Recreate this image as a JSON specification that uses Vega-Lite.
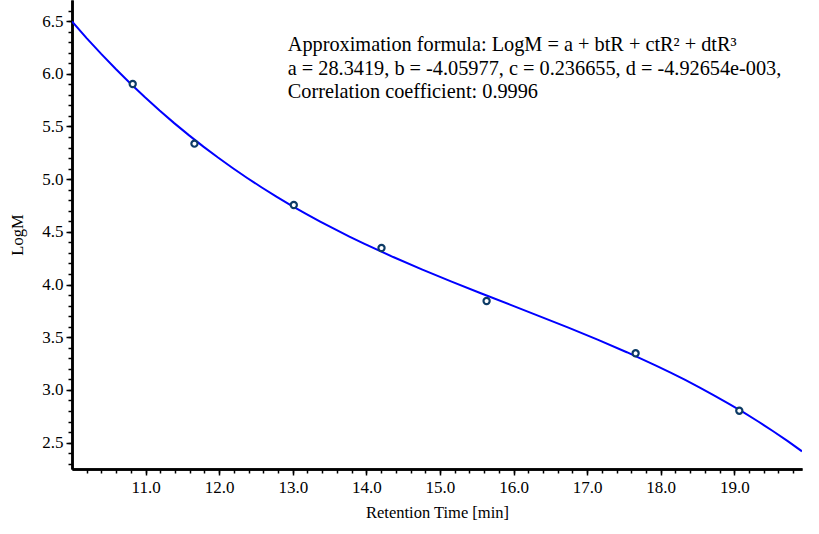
{
  "$schema": "https://vega.github.io/schema/vega-lite/v6.json",
  "width": 730,
  "height": 469,
  "autosize": {"type": "none"},
  "padding": {"left": 72, "top": 0, "right": 17, "bottom": 65},
  "background": "white",
  "config": {
    "view": {"stroke": null},
    "font": "Liberation Serif",
    "axis": {
      "domainColor": "black",
      "domainWidth": 2.5,
      "tickColor": "black",
      "tickWidth": 1.5,
      "labelColor": "black",
      "labelFont": "Liberation Serif",
      "labelFontSize": 17,
      "titleFont": "Liberation Serif",
      "titleFontSize": 16.5,
      "titleFontWeight": "normal",
      "titleColor": "black",
      "grid": false
    }
  },
  "datasets": {
    "points": [
      {"tR": 10.825, "LogM": 5.903},
      {"tR": 11.664, "LogM": 5.337},
      {"tR": 13.014, "LogM": 4.755},
      {"tR": 14.206, "LogM": 4.347},
      {"tR": 15.634, "LogM": 3.844},
      {"tR": 17.659, "LogM": 3.348},
      {"tR": 19.068, "LogM": 2.803}
    ],
    "notes": [
      {"tR": 12.932, "LogM": 6.216, "text": "Approximation formula: LogM = a + btR + ctR² + dtR³"},
      {"tR": 12.932, "LogM": 5.988, "text": "a = 28.3419, b = -4.05977, c = 0.236655, d = -4.92654e-003,"},
      {"tR": 12.932, "LogM": 5.770, "text": "Correlation coefficient: 0.9996"}
    ]
  },
  "resolve": {"axis": {"x": "independent", "y": "independent"}},
  "layer": [
    {
      "data": {"name": "points"},
      "transform": [
        {"regression": "LogM", "on": "tR", "method": "poly", "order": 3, "extent": [10, 19.92]}
      ],
      "mark": {"type": "line", "color": "#0000ff", "strokeWidth": 2, "clip": true},
      "encoding": {
        "x": {
          "field": "tR", "type": "quantitative",
          "scale": {"domain": [10, 19.92], "nice": false, "zero": false},
          "axis": {
            "orient": "bottom", "title": null, "labels": false, "tickSize": 4,
            "values": [10.2,10.4,10.6,10.8,11,11.2,11.4,11.6,11.8,12,12.2,12.4,12.6,12.8,13,13.2,13.4,13.6,13.8,14,14.2,14.4,14.6,14.8,15,15.2,15.4,15.6,15.8,16,16.2,16.4,16.6,16.8,17,17.2,17.4,17.6,17.8,18,18.2,18.4,18.6,18.8,19,19.2,19.4,19.6,19.8]
          }
        },
        "y": {
          "field": "LogM", "type": "quantitative",
          "scale": {"domain": [2.25, 6.7], "nice": false, "zero": false},
          "axis": {
            "orient": "left", "title": null, "labels": false, "tickSize": 4,
            "values": [2.3,2.4,2.5,2.6,2.7,2.8,2.9,3,3.1,3.2,3.3,3.4,3.5,3.6,3.7,3.8,3.9,4,4.1,4.2,4.3,4.4,4.5,4.6,4.7,4.8,4.9,5,5.1,5.2,5.3,5.4,5.5,5.6,5.7,5.8,5.9,6,6.1,6.2,6.3,6.4,6.5,6.6]
          }
        }
      }
    },
    {
      "data": {"name": "points"},
      "mark": {"type": "point", "shape": "circle", "filled": false, "fill": "white", "fillOpacity": 1, "stroke": "#0d3b66", "strokeWidth": 2.2, "size": 38, "opacity": 1},
      "encoding": {
        "x": {
          "field": "tR", "type": "quantitative",
          "scale": {"domain": [10, 19.92], "nice": false, "zero": false},
          "axis": {
            "orient": "bottom", "title": "Retention Time [min]", "format": ".1f", "tickSize": 6,
            "labelPadding": 4, "titlePadding": 9,
            "values": [11,12,13,14,15,16,17,18,19]
          }
        },
        "y": {
          "field": "LogM", "type": "quantitative",
          "scale": {"domain": [2.25, 6.7], "nice": false, "zero": false},
          "axis": {
            "orient": "left", "title": "LogM", "format": ".1f", "tickSize": 6,
            "labelPadding": 3, "titlePadding": 16,
            "values": [2.5,3,3.5,4,4.5,5,5.5,6,6.5]
          }
        }
      }
    },
    {
      "data": {"name": "notes"},
      "mark": {"type": "text", "align": "left", "baseline": "alphabetic", "font": "Liberation Serif", "fontSize": 20.3, "color": "black"},
      "encoding": {
        "x": {"field": "tR", "type": "quantitative", "scale": {"domain": [10, 19.92], "nice": false, "zero": false}, "axis": null},
        "y": {"field": "LogM", "type": "quantitative", "scale": {"domain": [2.25, 6.7], "nice": false, "zero": false}, "axis": null},
        "text": {"field": "text"}
      }
    }
  ]
}
